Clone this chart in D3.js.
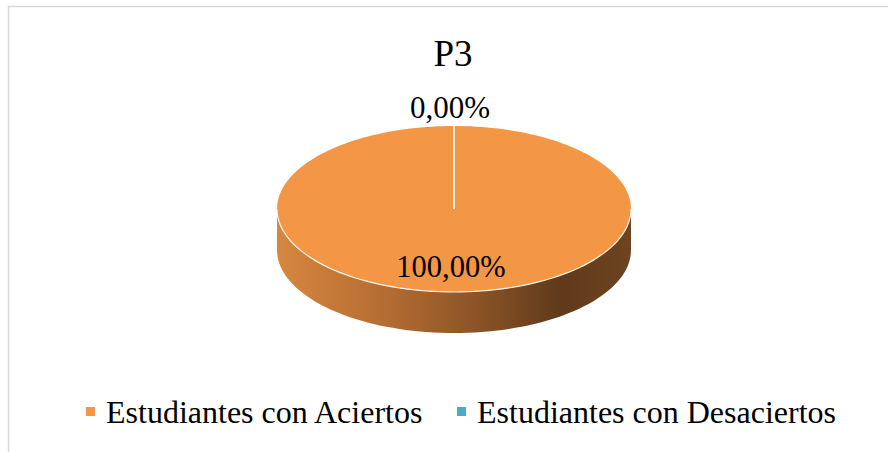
<!DOCTYPE html>
<html>
<head>
<meta charset="utf-8">
<script src="https://cdn.jsdelivr.net/npm/d3@7"></script>
<style>
  body { margin: 0; background: #fff; }
  svg text { font-family: "Liberation Serif", "Times New Roman", serif; fill: #000; }
</style>
</head>
<body>
<svg id="chart" width="888" height="452"></svg>
<script>
const title = "P3";
const categories = ["Estudiantes con Aciertos", "Estudiantes con Desaciertos"];
const values = [100, 0];
const labels = ["100,00%", "0,00%"];
const colors = ["#f39646", "#4bacc6"];

const svg = d3.select("#chart");

// chart frame
svg.append("rect")
    .attr("x", 8.5).attr("y", 6.5)
    .attr("width", 890).attr("height", 460)
    .attr("fill", "#fff").attr("stroke", "#d9d9d9").attr("stroke-width", 1.5);

svg.append("text")
    .attr("x", 453).attr("y", 66)
    .attr("text-anchor", "middle")
    .style("font-size", "37px")
    .text(title);

// pie geometry (tilted circle)
const cx = 454, cy = 209, rx = 177, ry = 83, depth = 41;

const pie = d3.pie().sort(null).startAngle(0).endAngle(2 * Math.PI);
const arcs = pie(values);

// side gradient
const defs = svg.append("defs");
const grad = defs.append("linearGradient").attr("id", "side")
    .attr("x1", "0%").attr("x2", "100%").attr("y1", "0%").attr("y2", "0%");
[[0, "#d7873f"], [0.3, "#b56d33"], [0.55, "#8e5527"], [0.8, "#5f3a1b"], [1, "#6e4420"]]
    .forEach(([o, c]) => grad.append("stop").attr("offset", o).attr("stop-color", c));

// projects an angle (d3 convention: 0 at top, clockwise) onto the ellipse
const pt = (a, dy = 0) => [cx + rx * Math.sin(a), cy - ry * Math.cos(a) + dy];

// side wall: front half only (angles PI/2 .. 3PI/2)
const sidePath = d3.path();
const steps = 80;
for (let i = 0; i <= steps; i++) {
  const a = Math.PI / 2 + Math.PI * i / steps;
  const [x, y] = pt(a);
  i === 0 ? sidePath.moveTo(x, y) : sidePath.lineTo(x, y);
}
for (let i = steps; i >= 0; i--) {
  const a = Math.PI / 2 + Math.PI * i / steps;
  const [x, y] = pt(a, depth);
  sidePath.lineTo(x, y);
}
sidePath.closePath();
svg.append("path").attr("d", sidePath.toString()).attr("fill", "url(#side)");

// top faces
arcs.forEach((d, i) => {
  if (d.endAngle - d.startAngle <= 0) return;
  const p = d3.path();
  p.moveTo(cx, cy);
  const n = 200;
  for (let k = 0; k <= n; k++) {
    const a = d.startAngle + (d.endAngle - d.startAngle) * k / n;
    const [x, y] = pt(a);
    p.lineTo(x, y);
  }
  p.closePath();
  svg.append("path").attr("d", p.toString()).attr("fill", colors[i]);
});

// white front rim highlight
const rim = d3.path();
for (let i = 0; i <= steps; i++) {
  const a = Math.PI / 2 + Math.PI * i / steps;
  const [x, y] = pt(a);
  i === 0 ? rim.moveTo(x, y) : rim.lineTo(x, y);
}
svg.append("path").attr("d", rim.toString())
    .attr("fill", "none").attr("stroke", "#fff").attr("stroke-width", 1.2).attr("opacity", 0.9);

// slice boundaries
arcs.forEach(d => {
  const [x, y] = pt(d.startAngle);
  svg.append("line")
      .attr("x1", cx).attr("y1", cy).attr("x2", x).attr("y2", y)
      .attr("stroke", "#fff").attr("stroke-width", 1.2);
});

// data labels
svg.append("text").attr("x", 451).attr("y", 277)
    .attr("text-anchor", "middle").style("font-size", "30.5px").text(labels[0]);
svg.append("text").attr("x", 450).attr("y", 118)
    .attr("text-anchor", "middle").style("font-size", "31px").text(labels[1]);

// legend
const legendX = [86, 457];
categories.forEach((c, i) => {
  const g = svg.append("g").attr("transform", `translate(${legendX[i]},0)`);
  g.append("rect").attr("x", 0).attr("y", 407).attr("width", 9).attr("height", 9).attr("fill", colors[i]);
  g.append("text").attr("x", 20).attr("y", 423).style("font-size", "32px").text(c);
});
</script>
</body>
</html>
